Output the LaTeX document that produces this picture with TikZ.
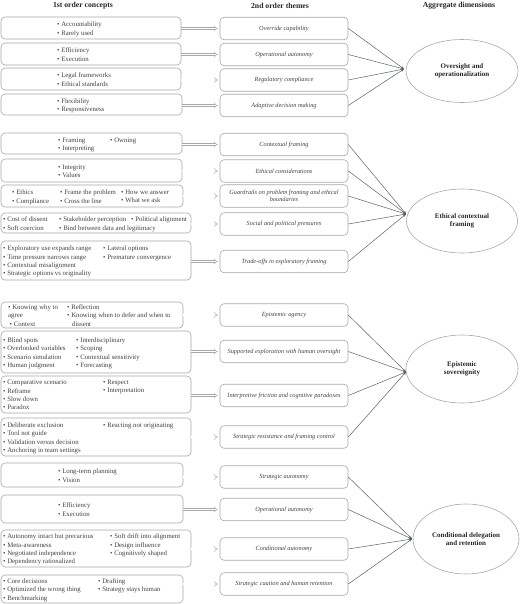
\documentclass[tikz,border=0pt]{standalone}
\usepackage{fontspec}
\setmainfont{Liberation Serif}
\usepackage{xcolor}
\usepackage{tikz}
\usetikzlibrary{shapes,arrows,positioning,calc,fit,arrows.meta}

\definecolor{boxgray}{HTML}{A8A8A8}
\definecolor{txtgray}{HTML}{404040}
\definecolor{linegray}{HTML}{5A6262}
\newcommand{\bul}{\textbullet\ }

\begin{document}
\begin{tikzpicture}[x=1pt, y=-1pt,
    concept/.style={draw=boxgray, rounded corners=4pt, line width=0.6pt, inner sep=0pt},
    items/.style={anchor=north west, inner sep=0pt, align=left, text=txtgray, font=\fontsize{6.8}{8.3}\selectfont},
    theme/.style={draw=boxgray, rounded corners=4pt, line width=0.6pt, minimum width=128pt, minimum height=22.5pt, inner sep=1pt, align=center, text=txtgray, font=\fontsize{6.3}{7.2}\selectfont\itshape},
    dimension/.style={ellipse, draw=boxgray, line width=0.6pt, inner sep=0pt, align=center, text=black!85, font=\fontsize{7}{8.5}\selectfont\bfseries},
    feed/.style={draw=boxgray, line width=0.5pt, double=white, double distance=1.4pt, -{Implies}},
    link/.style={draw=linegray, line width=0.5pt, -{Stealth[length=3pt,width=2.5pt]}},
    heading/.style={font=\fontsize{7.7}{9}\selectfont\bfseries, text=black!85}]

    \useasboundingbox (0,0) rectangle (520,604);

    % Column headings
    \node[heading] (h1) at (83,6) {1st order concepts};
    \node[heading] (h2) at (280,6) {2nd order themes};
    \node[heading] (h3) at (459,6) {Aggregate dimensions};

    % 1st order concept boxes
    \foreach \n/\xr/\ya/\yb in {1/181/17/39, 2/181/43/65, 3/181/68/90, 4/182/94/115,
        5/182/133/154, 6/182/159/182, 7/183/185/207, 8/191/213/233, 9/191/241/280,
        10/183/302/328, 11/191/331/373, 12/191/376/413, 13/191/418/456,
        14/183/463/487, 15/183/495/523, 16/191/530/567, 17/183/575/603}
        \node[concept, fit={(1,\ya) (\xr,\yb)}] (c\n) {};

    % Concept items
    \node[items] (i1) at (57,22) {\bul Accountability\\\bul Rarely used};
    \node[items] (i2) at (57,48) {\bul Efficiency\\\bul Execution};
    \node[items] (i3) at (57,73) {\bul Legal frameworks\\\bul Ethical standards};
    \node[items] (i4) at (57,98.5) {\bul Flexibility\\\bul Responsiveness};

    \node[items] (i5a) at (58,137.5) {\bul Framing\\\bul Interpreting};
    \node[items] (i5b) at (110,137.5) {\bul Owning};
    \node[items] (i6) at (58,164.5) {\bul Integrity\\\bul Values};
    \node[items] (i7a) at (12,190) {\bul Ethics\\\bul Compliance};
    \node[items] (i7b) at (60,190) {\bul Frame the problem\\\bul Cross the line};
    \node[items] (i7c) at (121,190) {\bul How we answer\\\bul What we ask};
    \node[items] (i8a) at (3,217) {\bul Cost of dissent\\\bul Soft coercion};
    \node[items] (i8b) at (59,217) {\bul Stakeholder perception\\\bul Bind between data and legitimacy};
    \node[items] (i8c) at (131,217) {\bul Political alignment};
    \node[items] (i9a) at (3,246) {\bul Exploratory use expands range\\\bul Time pressure narrows range\\\bul Contextual misalignment\\\bul Strategic options vs originality};
    \node[items] (i9b) at (103,246) {\bul Lateral options\\\bul Premature convergence};

    \node[items] (i10a) at (8,304.5) {\bul Knowing why to\\agree\\\hspace*{1.5pt}\bul Context};
    \node[items] (i10b) at (67,304.5) {\bul Reflection\\\bul Knowing when to defer and when to\\\hspace*{5pt}dissent};
    \node[items] (i11a) at (3,337.5) {\bul Blind spots\\\bul Overlooked variables\\\bul Scenario simulation\\\bul Human judgment};
    \node[items] (i11b) at (76,337.5) {\bul Interdisciplinary\\\bul Scoping\\\bul Contextual sensitivity\\\bul Forecasting};
    \node[items] (i12a) at (3,380) {\bul Comparative scenario\\\bul Reframe\\\bul Slow down\\\bul Paradox};
    \node[items] (i12b) at (103,380) {\bul Respect\\\bul Interpretation};
    \node[items] (i13a) at (3,422.5) {\bul Deliberate exclusion\\\bul Tool not guide\\\bul Validation versus decision\\\bul Anchoring in team settings};
    \node[items] (i13b) at (103,422.5) {\bul Reacting not originating};

    \node[items] (i14) at (58,469) {\bul Long-term planning\\\bul Vision};
    \node[items] (i15) at (58,503) {\bul Efficiency\\\bul Execution};
    \node[items] (i16a) at (3,534) {\bul Autonomy intact but precarious\\\bul Meta-awareness\\\bul Negotiated independence\\\bul Dependency rationalized};
    \node[items] (i16b) at (110,534) {\bul Soft drift into alignment\\\bul Design influence\\\bul Cognitively shaped};
    \node[items] (i17a) at (3,578.5) {\bul Core decisions\\\bul Optimized the wrong thing\\\bul Benchmarking};
    \node[items] (i17b) at (98,578.5) {\bul Drafting\\\bul Strategy stays human};

    % 2nd order themes
    \foreach \n/\y/\txt in {1/28.5/Override capability, 2/54.5/Operational autonomy,
        3/80/Regulatory compliance, 4/105.5/Adaptive decision making,
        5/144.5/Contextual framing, 6/171/Ethical considerations,
        7/196/{Guardrails on problem framing and ethical\\boundaries},
        8/224/Social and political pressures, 9/261.5/Trade-offs in exploratory framing,
        10/315/Epistemic agency, 11/351.5/Supported exploration with human oversight,
        12/395.5/Interpretive friction and cognitive paradoxes,
        13/437/Strategic resistance and framing control,
        14/477/Strategic autonomy, 15/509.5/Operational autonomy,
        16/549/Conditional autonomy, 17/584/Strategic caution and human retention}
        \node[theme] (m\n) at (284,\y) {\txt};

    % Concepts feed themes
    \foreach \n in {1,...,17}
        \draw[feed] (c\n.east |- m\n.west) -- ([xshift=-2pt]m\n.west);

    % Aggregate dimensions
    \node[dimension, minimum width=112pt, minimum height=63pt] (d1) at (462,71) {Oversight and\\operationalization};
    \node[dimension, minimum width=111pt, minimum height=64pt] (d2) at (462,221) {Ethical contextual\\framing};
    \node[dimension, minimum width=112pt, minimum height=68pt] (d3) at (462,369) {Epistemic\\sovereignity};
    \node[dimension, minimum width=106pt, minimum height=70pt] (d4) at (466,539) {Conditional delegation\\and retention};

    \coordinate (k1) at (404,69);
    \coordinate (k2) at (406,214);
    \coordinate (k3) at (406,372);
    \coordinate (k4) at (412,539);

    % Themes converge on dimensions
    \foreach \n/\k in {1/1,2/1,3/1,4/1,5/2,6/2,7/2,8/2,9/2,10/3,11/3,12/3,13/3,14/4,15/4,16/4,17/4}
        \draw[link] (m\n.east) -- (k\k);
\end{tikzpicture}
\end{document}
